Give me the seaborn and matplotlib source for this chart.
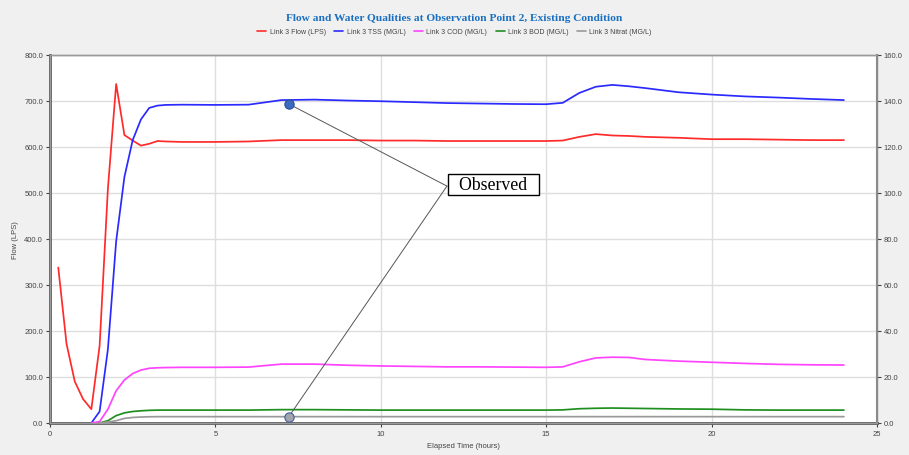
import numpy as np
import pandas as pd
import matplotlib
matplotlib.use("Agg")
import matplotlib.pyplot as plt
import seaborn as sns

# Elapsed time (hours)
hours = [0.25, 0.5, 0.75, 1.0, 1.25, 1.5, 1.75, 2.0, 2.25, 2.5, 2.75, 3.0, 3.25, 3.5,
         4, 5, 6, 7, 8, 9, 10, 11, 12, 13, 14, 15, 15.5, 16, 16.5, 17, 17.5, 18,
         19, 20, 21, 22, 23, 24]

# Link 3 flow (LPS) - left axis
flow = [338, 172, 90, 52, 30, 168, 509, 737, 626, 614, 603, 607, 613, 612,
        611, 611, 612, 615, 615, 615, 614, 614, 613, 613, 613, 613, 614, 622, 628, 625, 624, 622,
        620, 617, 617, 616, 615, 615]

nan = np.nan
# Water quality (MG/L) - right axis
tss = [nan, nan, nan, nan, 0.0, 5.0, 32.0, 79.0, 107.0, 123.0, 132.0, 137.0, 138.0, 138.3,
       138.4, 138.3, 138.4, 140.4, 140.6, 140.2, 139.9, 139.5, 139.1, 138.9, 138.7, 138.6, 139.2, 143.5, 146.2, 147.0, 146.4, 145.6,
       143.8, 142.8, 142.0, 141.5, 140.9, 140.4]
cod = [nan, nan, nan, nan, 0.0, 0.6, 6.0, 14.0, 18.7, 21.5, 23.0, 23.8, 24.0, 24.1,
       24.2, 24.2, 24.3, 25.6, 25.6, 25.1, 24.8, 24.6, 24.4, 24.4, 24.3, 24.2, 24.4, 26.6, 28.3, 28.6, 28.5, 27.6,
       26.9, 26.4, 25.9, 25.5, 25.3, 25.2]
bod = [nan, nan, nan, nan, nan, 0.0, 1.0, 3.2, 4.4, 5.0, 5.3, 5.5, 5.6, 5.6,
       5.6, 5.6, 5.6, 5.8, 5.8, 5.7, 5.6, 5.6, 5.6, 5.6, 5.6, 5.6, 5.7, 6.2, 6.4, 6.5, 6.4, 6.3,
       6.1, 6.0, 5.7, 5.6, 5.6, 5.6]
nitrat = [nan, nan, nan, nan, nan, 0.0, 0.4, 1.0, 2.0, 2.4, 2.6, 2.7, 2.75, 2.75,
          2.75, 2.75, 2.75, 2.75, 2.75, 2.75, 2.75, 2.75, 2.75, 2.75, 2.75, 2.75, 2.75, 2.75, 2.75, 2.75, 2.75, 2.75,
          2.75, 2.75, 2.75, 2.75, 2.75, 2.75]

# Observed samples (hours, MG/L)
obs_time = [7.22, 7.22]
obs_value = [138.7, 2.75]
obs_label = "Observed"

series_names = ["Link 3 Flow (LPS)", "Link 3 TSS (MG/L)", "Link 3 COD (MG/L)",
                "Link 3 BOD (MG/L)", "Link 3 Nitrat (MG/L)"]
colors = ["#ff2a2a", "#2a2aff", "#ff44ff", "#1e8f1e", "#999999"]

sns.set_style("white")
plt.rcParams["font.family"] = ["Liberation Sans", "DejaVu Sans"]

fig = plt.figure(figsize=(9.09, 4.56), dpi=100, facecolor="#f0f0f0")
ax = fig.add_axes([0.055, 0.0702, 0.9098, 0.807])
ax.set_facecolor("white")
ax2 = ax.twinx()
ax2.patch.set_visible(False)

flow_df = pd.DataFrame({"hours": hours, "value": flow, "series": series_names[0]})
qual_df = pd.concat([
    pd.DataFrame({"hours": hours, "value": vals, "series": name})
    for name, vals in zip(series_names[1:], [tss, cod, bod, nitrat])
], ignore_index=True).dropna()

lw = 1.25
sns.lineplot(data=flow_df, x="hours", y="value", color=colors[0], lw=lw,
             estimator=None, ax=ax, legend=False)
sns.lineplot(data=qual_df, x="hours", y="value", hue="series",
             hue_order=series_names[1:], palette=colors[1:], lw=lw,
             estimator=None, ax=ax2, legend=False)

# Axes ranges and ticks
ax.set_xlim(0, 25)
ax.set_ylim(0, 800)
ax2.set_ylim(0, 160)
ax.set_xticks(range(0, 26, 5))
ax.set_yticks(np.arange(0, 801, 100))
ax2.set_yticks(np.arange(0, 161, 20))
ax.set_yticklabels([f"{v:.1f}" for v in np.arange(0, 801, 100)])
ax2.set_yticklabels([f"{v:.1f}" for v in np.arange(0, 161, 20)])

ax.grid(True, color="#dedede", lw=1.0)
ax.set_axisbelow(True)
ax2.grid(False)

tick_kw = dict(labelsize=5.5, colors="#444444", length=3, width=0.8, direction="out", pad=2)
ax.tick_params(axis="both", **tick_kw)
ax2.tick_params(axis="y", **tick_kw)
ax.tick_params(left=True, bottom=True)
ax2.tick_params(right=True)

for a in (ax, ax2):
    for s in a.spines.values():
        s.set_visible(True)
        s.set_color("#9a9a9a")
        s.set_linewidth(1.0)
ax.spines["left"].set_color("#555555")
ax.spines["left"].set_linewidth(2.0)
ax.spines["bottom"].set_color("#555555")
ax.spines["bottom"].set_linewidth(2.0)
ax2.spines["right"].set_color("#8a8a8a")
ax2.spines["right"].set_linewidth(1.5)

ax.set_xlabel("Elapsed Time (hours)", fontsize=5.5, color="#444444", labelpad=4)
ax.set_ylabel("Flow (LPS)", fontsize=5.5, color="#444444", labelpad=4)
ax2.set_ylabel("")

# Observed points and callout
ax2.scatter(obs_time[:1], obs_value[:1], s=45, color="#3c6bc2", edgecolor="#2c4f94",
            lw=0.8, zorder=6)
ax2.scatter(obs_time[1:], obs_value[1:], s=45, color="#a3a3ab", edgecolor="#3f5fa0",
            lw=0.8, zorder=6)
hub = (12.0, 103.0)
for tx, ty in zip(obs_time, obs_value):
    ax2.annotate("", xy=(tx, ty), xytext=hub,
                 arrowprops=dict(arrowstyle="-", color="#555555", lw=0.7,
                                 shrinkA=0, shrinkB=3), zorder=5)
ax2.text(hub[0] + 0.1, hub[1] + 0.6, "  " + obs_label + "  ", ha="left", va="center",
         fontsize=12.8, family="Liberation Serif", color="black", zorder=7,
         bbox=dict(boxstyle="square,pad=0.12", fc="white", ec="black", lw=1.0))

# Title and legend
fig.text(0.5, 0.96, "Flow and Water Qualities at Observation Point 2, Existing Condition",
         ha="center", va="center", fontsize=8.2, fontweight="bold",
         family="Liberation Serif", color="#1a6fc0")
handles = [plt.Line2D([], [], color=c, lw=1.2) for c in colors]
fig.legend(handles, series_names, loc="center", bbox_to_anchor=(0.5, 0.928), ncol=5,
           frameon=False, fontsize=5, handlelength=1.3, handletextpad=0.5,
           columnspacing=1.2, labelcolor="#444444")

fig.savefig("out.png", dpi=100, facecolor=fig.get_facecolor())
